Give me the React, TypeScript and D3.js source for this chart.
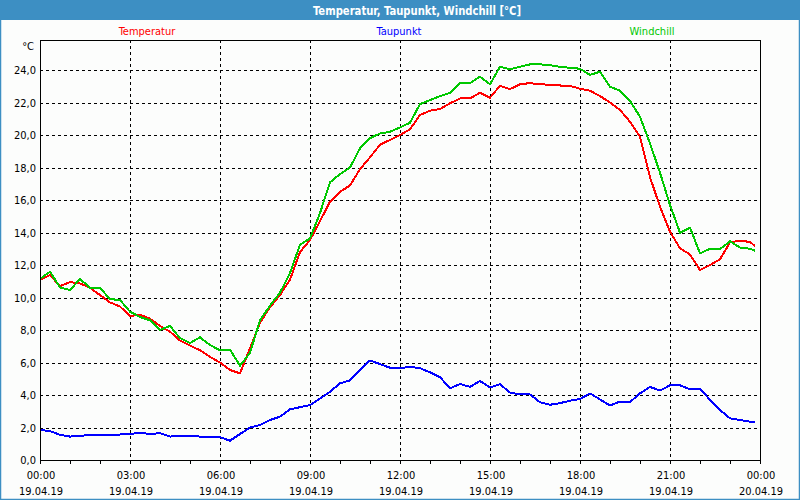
import React, { useEffect, useRef } from 'react';
import * as d3 from 'd3';

// time of each reading in minutes after 19.04.19 00:00
const minutes = [...d3.range(0, 1440, 20), 1430];

const temperatur = [
  11.1, 11.38, 10.7, 10.95, 10.87, 10.6, 10.15, 9.7, 9.45, 8.85,
  8.95, 8.7, 8.25, 7.9, 7.35, 7.05, 6.75, 6.35, 6.0, 5.54,
  5.33, 6.87, 8.45, 9.4, 10.15, 11.1, 12.8, 13.54, 14.7, 15.9,
  16.5, 16.9, 17.9, 18.63, 19.4, 19.7, 20.0, 20.35, 21.23, 21.5,
  21.6, 21.95, 22.25, 22.25, 22.6, 22.3, 23.03, 22.83, 23.12, 23.2,
  23.12, 23.1, 23.05, 23.03, 22.85, 22.73, 22.4, 22.0, 21.54, 20.82,
  19.9, 17.4, 15.6, 14.05, 13.03, 12.65, 11.69, 12.0, 12.35, 13.4,
  13.5, 13.42, 13.17,
];

const taupunkt = [
  1.85, 1.78, 1.55, 1.44, 1.5, 1.52, 1.54, 1.54, 1.57, 1.6,
  1.68, 1.6, 1.65, 1.44, 1.5, 1.5, 1.44, 1.42, 1.4, 1.19,
  1.6, 2.0, 2.15, 2.46, 2.67, 3.12, 3.25, 3.38, 3.79, 4.2,
  4.72, 4.9, 5.54, 6.13, 5.9, 5.68, 5.65, 5.74, 5.65, 5.4,
  5.1, 4.41, 4.68, 4.5, 4.86, 4.47, 4.66, 4.15, 4.04, 4.04,
  3.55, 3.4, 3.5, 3.65, 3.75, 4.1, 3.73, 3.35, 3.6, 3.57,
  4.1, 4.5, 4.27, 4.6, 4.6, 4.35, 4.4, 3.7, 3.08, 2.56,
  2.46, 2.36, 2.32,
];

const windchill = [
  11.15, 11.59, 10.62, 10.46, 11.14, 10.6, 10.6, 9.9, 9.85, 9.13,
  8.8, 8.6, 8.0, 8.25, 7.5, 7.2, 7.55, 7.08, 6.75, 6.8,
  5.8, 6.6, 8.6, 9.5, 10.3, 11.5, 13.25, 13.64, 15.2, 17.09,
  17.6, 18.0, 19.18, 19.8, 20.1, 20.2, 20.47, 20.76, 21.9, 22.15,
  22.4, 22.6, 23.2, 23.2, 23.59, 23.12, 24.2, 24.05, 24.2, 24.35,
  24.35, 24.3, 24.2, 24.14, 24.08, 23.7, 23.9, 22.97, 22.73, 22.1,
  21.13, 19.49, 17.68, 15.7, 13.99, 14.3, 12.72, 13.0, 12.98, 13.46,
  13.08, 13.0, 12.88,
];

const seriesNames = ['Temperatur', 'Taupunkt', 'Windchill'];
const seriesColors = ['#ff0000', '#0000ff', '#00c800'];

const yTicks = [0, 2, 4, 6, 8, 10, 12, 14, 16, 18, 20, 22, 24];
const xTickMinutes = [0, 180, 360, 540, 720, 900, 1080, 1260, 1440];
const timeLabels = ['00:00', '03:00', '06:00', '09:00', '12:00', '15:00', '18:00', '21:00', '00:00'];
const dateLabels = ['19.04.19', '19.04.19', '19.04.19', '19.04.19', '19.04.19', '19.04.19', '19.04.19', '19.04.19', '20.04.19'];

const FONT = '"DejaVu Sans Condensed", "DejaVu Sans", sans-serif';
const BAR = '#3d8fc3';

const App = () => {
  const svgRef = useRef<SVGSVGElement>(null);

  useEffect(() => {
    const width = 800;
    const height = 500;
    const svg = d3.select(svgRef.current).attr('width', width).attr('height', height);
    svg.selectAll('*').remove();

    const margin = { top: 40, right: 40, bottom: 40, left: 40 };

    // window frame + title bar
    svg.append('rect').attr('width', width).attr('height', height).attr('fill', '#fcfdfc');
    svg.append('rect')
      .attr('x', 0.5).attr('y', 0.5)
      .attr('width', width - 1).attr('height', height - 1)
      .attr('fill', 'none').attr('stroke', BAR).attr('stroke-width', 1.5);
    svg.append('rect').attr('width', width).attr('height', 20).attr('fill', BAR);
    svg.append('text')
      .attr('x', 417).attr('y', 14.5)
      .attr('text-anchor', 'middle')
      .attr('fill', '#fff')
      .attr('font-family', FONT)
      .attr('font-weight', 'bold')
      .attr('font-size', 12)
      .attr('textLength', 208)
      .attr('lengthAdjust', 'spacingAndGlyphs')
      .text('Temperatur, Taupunkt, Windchill [°C]');

    const x = d3.scaleLinear().domain([0, 1440]).range([margin.left, width - margin.right]);
    const y = d3.scaleLinear().domain([0, 25.85]).range([height - margin.bottom, margin.top]);

    // legend
    const legendX = [147, 399, 652];
    seriesNames.forEach((name, i) => {
      svg.append('text')
        .attr('x', legendX[i]).attr('y', 35)
        .attr('text-anchor', 'middle')
        .attr('fill', seriesColors[i])
        .attr('font-family', FONT)
        .attr('font-size', 11)
        .text(name);
    });

    // grid
    const grid = svg.append('g')
      .attr('stroke', '#000')
      .attr('stroke-width', 1)
      .attr('stroke-dasharray', '3,3')
      .attr('shape-rendering', 'crispEdges');
    grid.selectAll('.hgrid')
      .data(yTicks.filter(d => d > 0))
      .enter().append('line')
      .attr('x1', x(0)).attr('x2', x(1440))
      .attr('y1', d => Math.round(y(d)) + 0.5).attr('y2', d => Math.round(y(d)) + 0.5);
    grid.selectAll('.vgrid')
      .data(xTickMinutes.slice(1, -1))
      .enter().append('line')
      .attr('x1', d => x(d) + 0.5).attr('x2', d => x(d) + 0.5)
      .attr('y1', y.range()[1]).attr('y2', y.range()[0]);

    // y labels
    svg.append('g')
      .selectAll('text')
      .data(yTicks)
      .enter().append('text')
      .attr('x', 36)
      .attr('y', d => y(d) + 4)
      .attr('text-anchor', 'end')
      .attr('font-family', FONT)
      .attr('font-size', 11)
      .attr('fill', '#000')
      .text(d => d3.format('.1f')(d).replace('.', ','));
    svg.append('text')
      .attr('x', 34).attr('y', 50)
      .attr('text-anchor', 'end')
      .attr('font-family', FONT)
      .attr('font-size', 11)
      .attr('fill', '#000')
      .text('°C');

    // hour ticks under the x axis
    svg.append('g')
      .attr('stroke', '#000')
      .attr('shape-rendering', 'crispEdges')
      .selectAll('line')
      .data(d3.range(0, 1441, 60))
      .enter().append('line')
      .attr('x1', d => x(d) + 0.5).attr('x2', d => x(d) + 0.5)
      .attr('y1', y(0)).attr('y2', y(0) + 4);

    const xl = svg.append('g')
      .attr('font-family', FONT)
      .attr('font-size', 11)
      .attr('text-anchor', 'middle')
      .attr('fill', '#000');
    xTickMinutes.forEach((m, i) => {
      xl.append('text').attr('x', x(m) + 1).attr('y', 479).text(timeLabels[i]);
      xl.append('text').attr('x', x(m) + 1).attr('y', 495).text(dateLabels[i]);
    });

    // series (drawn without antialiasing, like the original)
    const allSeries = [temperatur, taupunkt, windchill];
    const line = d3.line<number>()
      .x((_, i) => x(minutes[i]))
      .y(d => y(d));
    [0, 2, 1].forEach(k => {
      svg.append('path')
        .datum(allSeries[k])
        .attr('fill', 'none')
        .attr('stroke', seriesColors[k])
        .attr('stroke-width', 2)
        .attr('stroke-linejoin', 'round')
        .attr('shape-rendering', 'crispEdges')
        .attr('d', line);
    });

    // plot frame
    svg.append('rect')
      .attr('x', x(0) + 0.5).attr('y', y.range()[1] + 0.5)
      .attr('width', x(1440) - x(0)).attr('height', y.range()[0] - y.range()[1])
      .attr('fill', 'none')
      .attr('stroke', '#000')
      .attr('shape-rendering', 'crispEdges');
  }, []);

  return <svg ref={svgRef} style={{ position: 'absolute', left: 0, top: 0, display: 'block' }}></svg>;
};

export default App;
